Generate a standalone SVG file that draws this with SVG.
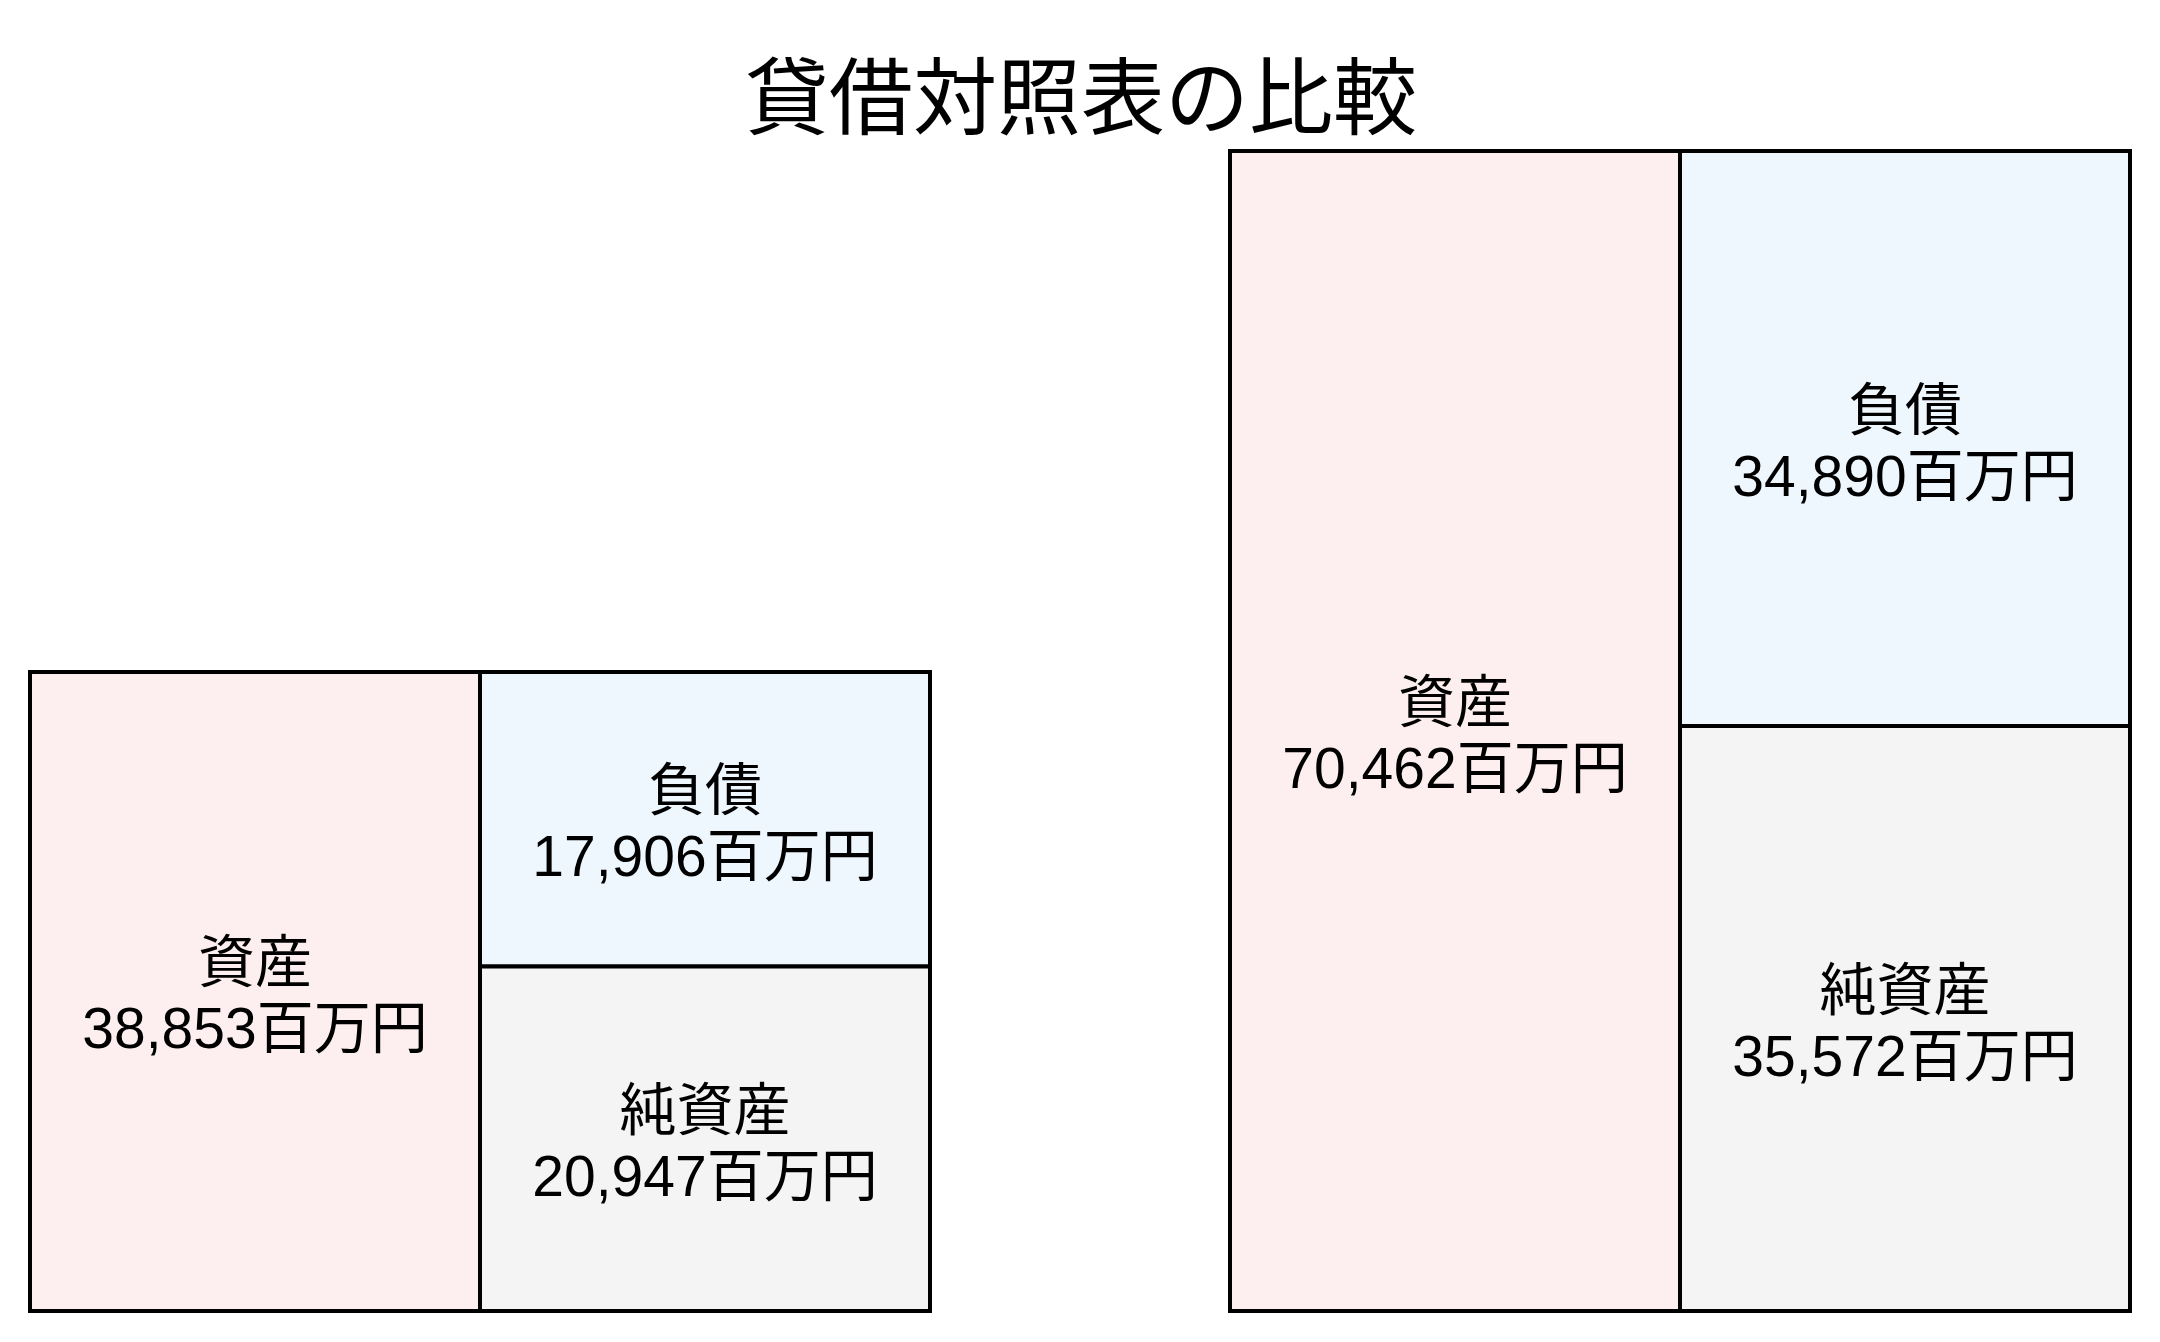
<svg xmlns="http://www.w3.org/2000/svg" width="2160" height="1342" viewBox="0 0 2160 1342">
  <style>
    .box { stroke: #000; stroke-width: 4; }
    .asset { fill: #fdefef; }
    .liab { fill: #eef6fe; }
    .net { fill: #f4f4f4; }
    .lbl { font-family: "Liberation Sans", "Noto Sans CJK JP", sans-serif; font-size: 57px; fill: #000; text-anchor: middle; }
    .title { font-family: "Liberation Sans", "Noto Sans CJK JP", sans-serif; font-size: 84px; fill: #000; text-anchor: middle; }
  </style>
  <rect width="2160" height="1342" fill="#fff"/>
  <text class="title" x="1081" y="128">貸借対照表の比較</text>

  <g id="left-assets">
    <rect class="box asset" x="30" y="672" width="450" height="639"/>
    <text class="lbl" x="255" y="982">資産</text>
    <text class="lbl" x="255" y="1048">38,853百万円</text>
  </g>
  <g id="left-liabilities">
    <rect class="box liab" x="480" y="672" width="450" height="294.5"/>
    <text class="lbl" x="705" y="810">負債</text>
    <text class="lbl" x="705" y="876">17,906百万円</text>
  </g>
  <g id="left-net-assets">
    <rect class="box net" x="480" y="966.5" width="450" height="344.5"/>
    <text class="lbl" x="705" y="1130">純資産</text>
    <text class="lbl" x="705" y="1196">20,947百万円</text>
  </g>

  <g id="right-assets">
    <rect class="box asset" x="1230" y="151" width="450" height="1160"/>
    <text class="lbl" x="1455" y="722">資産</text>
    <text class="lbl" x="1455" y="788">70,462百万円</text>
  </g>
  <g id="right-liabilities">
    <rect class="box liab" x="1680" y="151" width="450" height="575"/>
    <text class="lbl" x="1905" y="430">負債</text>
    <text class="lbl" x="1905" y="496">34,890百万円</text>
  </g>
  <g id="right-net-assets">
    <rect class="box net" x="1680" y="726" width="450" height="585"/>
    <text class="lbl" x="1905" y="1010">純資産</text>
    <text class="lbl" x="1905" y="1076">35,572百万円</text>
  </g>

  <g id="connectors"></g>
</svg>
